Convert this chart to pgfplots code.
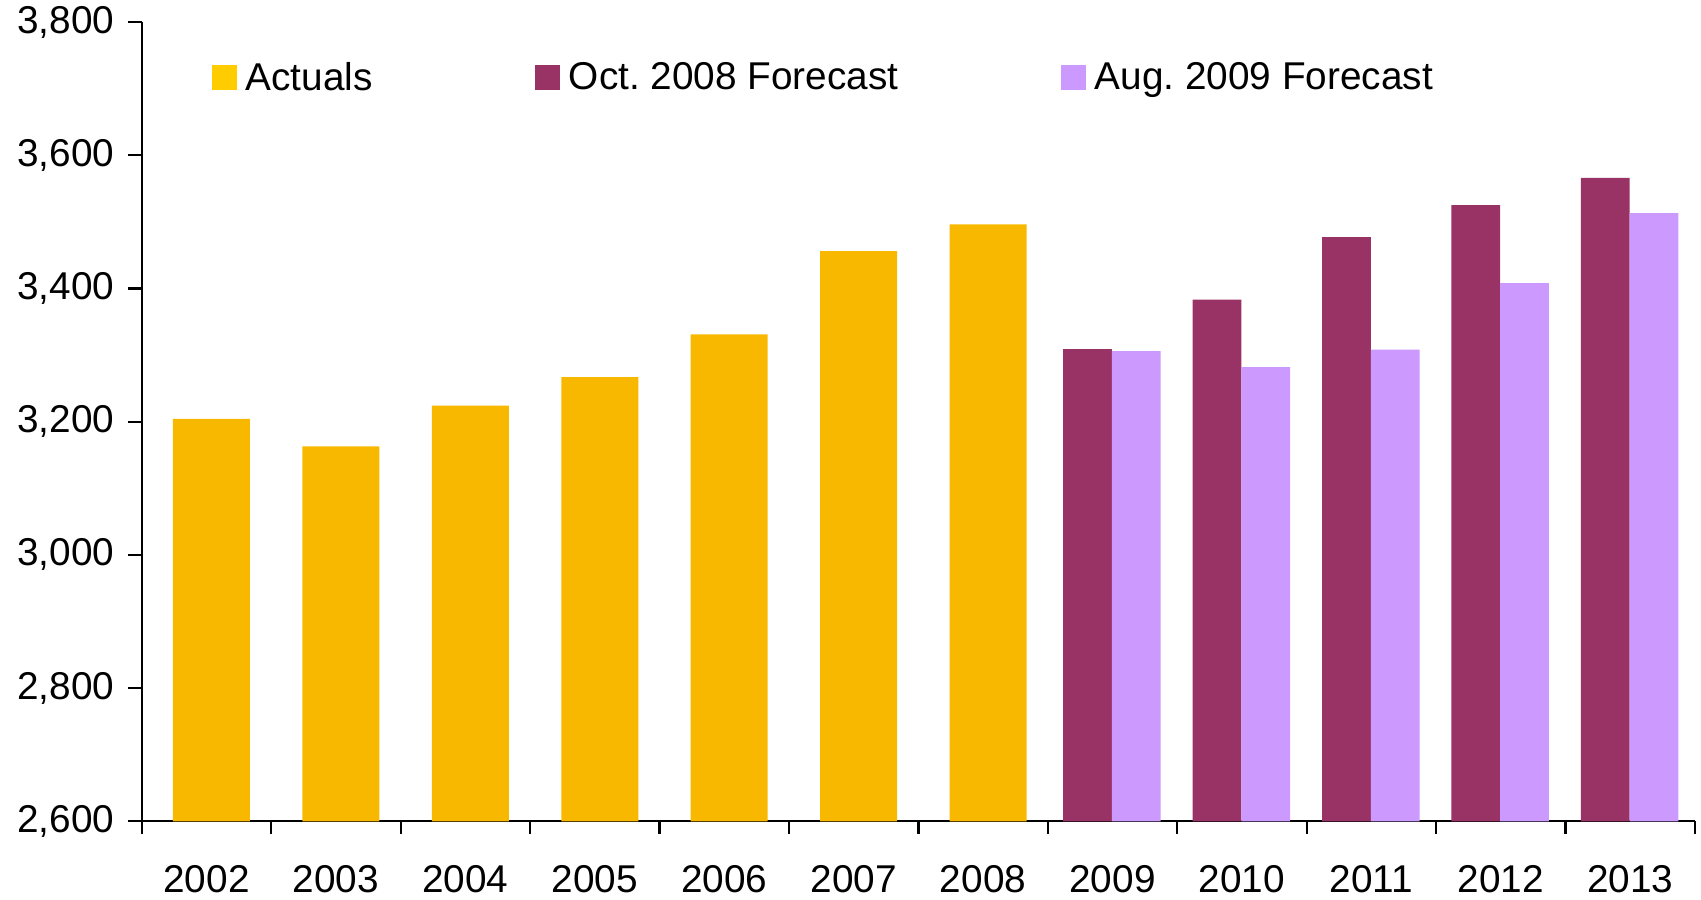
\documentclass[border=0pt]{standalone}
\usepackage{fontspec}
\setmainfont{Liberation Sans}
\usepackage{pgfplots}
\pgfplotsset{compat=1.18}
\definecolor{actual}{HTML}{F9B800}
\definecolor{actualleg}{HTML}{FFCC00}
\definecolor{octf}{HTML}{993366}
\definecolor{augf}{HTML}{CC99FF}
\begin{document}
\frenchspacing
\begin{tikzpicture}
\path[use as bounding box] (0,0) rectangle (680.4pt,359.6pt);
\begin{axis}[
  at={(56.7pt,31.1pt)}, anchor=south west,
  scale only axis, width=621.3pt, height=319.7pt,
  xmin=-0.5, xmax=11.5, ymin=2600, ymax=3800,
  axis lines*=left,
  axis line style={line width=0.9pt},
  every tick/.style={black, line width=0.9pt},
  ytick={2600,2800,...,3800},
  xtick={0,...,11},
  xticklabels={2002,2003,2004,2005,2006,2007,2008,2009,2010,2011,2012,2013},
  major x tick style={draw=none},
  minor xtick={-0.5,0.5,...,11.5},
  tick align=outside, tick pos=left,
  major tick length=5.5pt, minor tick length=5pt,
  tick label style={font=\fontsize{15.5}{18}\selectfont},
  /pgf/number format/assume math mode=true,
  yticklabel style={xshift=-2pt, /pgf/number format/.cd,1000 sep={,}},
  xticklabel style={yshift=-8.5pt},
  legend style={draw=none, fill=none, at={(0.04,0.93)}, anchor=west,
    font=\fontsize{15.5}{18}\selectfont,
    legend columns=3,
    /tikz/every even column/.append style={column sep=63pt},
    /tikz/every odd column/.append style={column sep=1.5pt}},
  legend cell align=left,
]
\addlegendimage{area legend, fill=actualleg, draw=none, legend image code/.code={\fill[actualleg] (0pt,-5pt) rectangle (10pt,5pt);}}
\addlegendentry{Actuals}
\addlegendimage{area legend, fill=octf, draw=none, legend image code/.code={\fill[octf] (0pt,-5pt) rectangle (10pt,5pt);}}
\addlegendentry{Oct. 2008 Forecast}
\addlegendimage{area legend, fill=augf, draw=none, legend image code/.code={\fill[augf] (0pt,-5pt) rectangle (10pt,5pt);}}
\addlegendentry{Aug. 2009 Forecast}
\addplot[ybar, bar width=30.8pt, bar shift=2pt, fill=actual, draw=none, forget plot] coordinates {
 (0,3204) (1,3163) (2,3224) (3,3267) (4,3331) (5,3456) (6,3496)};
\addplot[ybar, bar width=19.5pt, bar shift=-10pt, fill=octf, draw=none, forget plot] coordinates {
 (7,3309) (8,3383) (9,3477) (10,3525) (11,3566)};
\addplot[ybar, bar width=19.5pt, bar shift=9.5pt, fill=augf, draw=none, forget plot] coordinates {
 (7,3306) (8,3282) (9,3308) (10,3408) (11,3513)};
\end{axis}
\end{tikzpicture}
\end{document}
